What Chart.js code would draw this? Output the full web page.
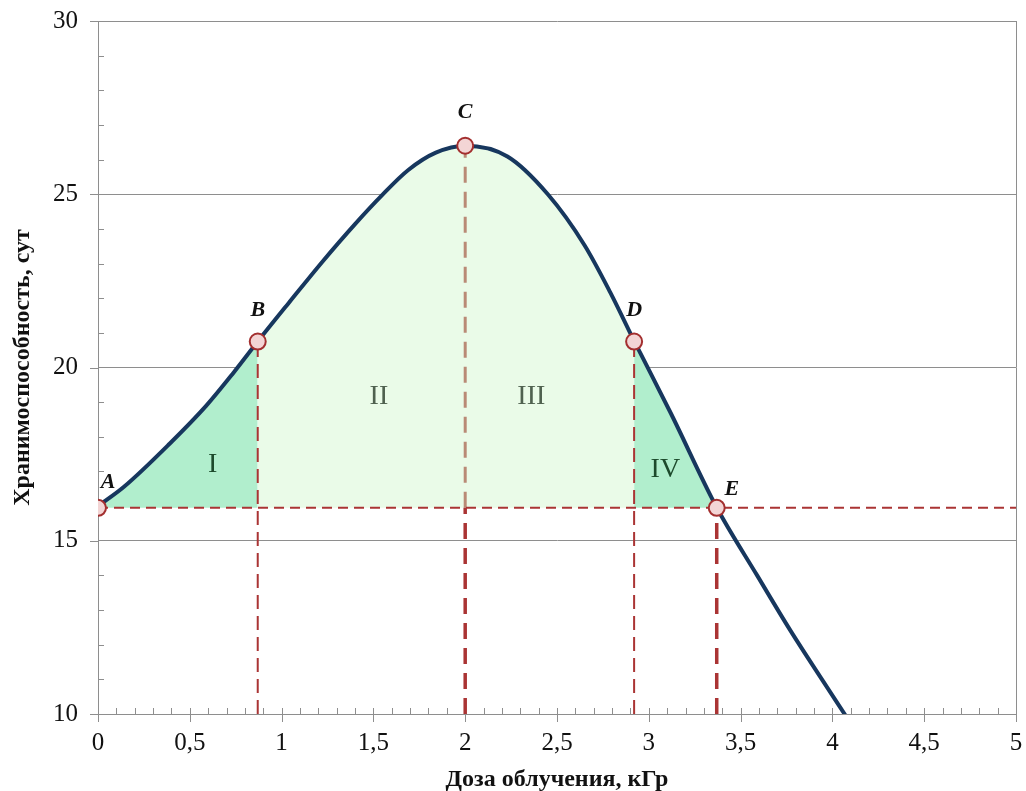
<!DOCTYPE html>
<html>
<head>
<meta charset="utf-8">
<script src="https://cdn.jsdelivr.net/npm/chart.js@4.4.1/dist/chart.umd.min.js"></script>
<style>
  html, body { margin: 0; padding: 0; background: #fff; }
  #wrap { width: 1026px; height: 791px; }
</style>
</head>
<body>
<div id="wrap"><canvas id="chart" width="1026" height="791"></canvas></div>
<script>
// curve
const doseX = [0, 0.14, 0.39, 0.59, 0.735, 0.87, 1.04, 1.22, 1.40, 1.55, 1.69, 1.84, 2.0, 2.23, 2.45, 2.65, 2.79, 2.92, 3.12, 3.37, 3.59, 3.77, 3.95, 4.07]
const storageDays = [16.0, 16.55, 17.8, 18.9, 19.83, 20.75, 21.87, 23.04, 24.14, 24.99, 25.7, 26.2, 26.4, 26.09, 25.0, 23.53, 22.17, 20.77, 18.68, 15.96, 14.0, 12.42, 10.94, 9.97]

// marked points A..E
const pointNames = ['A', 'B', 'C', 'D', 'E']
const pointX = [0, 0.87, 2.0, 2.92, 3.37]
const pointY = [15.95, 20.75, 26.4, 20.75, 15.95]

// zone captions
const zoneNames = ['I', 'II', 'III', 'IV']
const zoneX = [0.625, 1.53, 2.36, 3.09]
const zoneY = [17.2, 19.17, 19.17, 17.06]

const xTicks = [0, 0.5, 1, 1.5, 2, 2.5, 3, 3.5, 4, 4.5, 5]
const yTicks = [10, 15, 20, 25, 30]

const base = pointY[0]
const yMin = yTicks[0]
const red = '#aa3434'
const gridGray = '#8e8e8e'
const greenDark = '#b1eecd'
const greenLight = '#eafbe8'

Chart.defaults.font.family = '"Liberation Serif", "Times New Roman", serif'
Chart.defaults.color = '#111'

function zoneColor(c) {
  const x1 = c.p1.parsed.x
  if (x1 <= pointX[1] + 1e-6) return greenDark
  if (x1 <= pointX[3] + 1e-6) return greenLight
  if (x1 <= pointX[4] + 1e-6) return greenDark
  return 'rgba(0,0,0,0)'
}

function dashed(points, color, width, dash) {
  return {
    data: points, borderColor: color, borderWidth: width, borderDash: dash,
    pointRadius: 0, fill: false, order: 2, tension: 0
  }
}

const axisTicks = {
  id: 'axisTicks',
  beforeDatasetsDraw(chart) {
    const { ctx, scales: { x, y } } = chart
    ctx.save()
    ctx.strokeStyle = gridGray
    ctx.lineWidth = 1
    ctx.beginPath()
    for (let i = 0; i <= 50; i++) {
      const px = Math.round(x.getPixelForValue(i / 10)) + 0.5
      if (i % 5 === 0) {
        ctx.moveTo(px, y.bottom - (i === 0 ? 0 : 6))
        ctx.lineTo(px, y.bottom + 8)
      } else {
        ctx.moveTo(px, y.bottom - 6)
        ctx.lineTo(px, y.bottom)
      }
    }
    for (let v = yTicks[0]; v <= yTicks[yTicks.length - 1]; v++) {
      const py = Math.round(y.getPixelForValue(v)) + 0.5
      if (v % 5 === 0) {
        ctx.moveTo(x.left - 8, py)
        ctx.lineTo(x.left, py)
      } else {
        ctx.moveTo(x.left, py)
        ctx.lineTo(x.left + 6, py)
      }
    }
    ctx.stroke()
    ctx.restore()
  }
}

const captions = {
  id: 'captions',
  afterDatasetsDraw(chart) {
    const { ctx, scales: { x, y } } = chart
    ctx.save()
    ctx.textAlign = 'center'
    ctx.textBaseline = 'middle'
    ctx.font = '28px "Liberation Serif"'
    zoneNames.forEach((t, i) => {
      ctx.fillStyle = (i === 1 || i === 2) ? '#4f614f' : '#1d4a2c'
      ctx.fillText(t, x.getPixelForValue(zoneX[i]), y.getPixelForValue(zoneY[i]))
    })
    ctx.font = 'italic bold 22px "Liberation Serif"'
    ctx.fillStyle = '#111'
    const dx = [10, 0, 0, 0, 15]
    const dy = [-26, -31, -33, -31, -19]
    pointNames.forEach((t, i) => {
      ctx.fillText(t, x.getPixelForValue(pointX[i]) + dx[i], y.getPixelForValue(pointY[i]) + dy[i])
    })
    ctx.restore()
  }
}

new Chart(document.getElementById('chart'), {
  type: 'line',
  data: {
    datasets: [
      {
        data: pointX.map((x, i) => ({ x, y: pointY[i] })),
        showLine: false,
        pointRadius: 8,
        pointBackgroundColor: '#f3d5d5',
        pointBorderColor: '#a32f2f',
        pointBorderWidth: 2,
        order: 0
      },
      {
        data: doseX.map((x, i) => ({ x, y: storageDays[i] })),
        borderColor: '#17375e',
        borderWidth: 4,
        pointRadius: 0,
        cubicInterpolationMode: 'monotone',
        fill: { value: base },
        backgroundColor: greenLight,
        segment: { backgroundColor: zoneColor },
        order: 1
      },
      dashed([{ x: xTicks[0], y: base }, { x: xTicks[xTicks.length - 1], y: base }], red, 2, [10, 6]),
      dashed([{ x: pointX[1], y: yMin }, { x: pointX[1], y: pointY[1] }], red, 2, [14, 7]),
      dashed([{ x: pointX[3], y: yMin }, { x: pointX[3], y: pointY[3] }], red, 2, [14, 7]),
      dashed([{ x: pointX[2], y: yMin }, { x: pointX[2], y: base }], red, 3.5, [16, 9]),
      dashed([{ x: pointX[2], y: base }, { x: pointX[2], y: pointY[2] }], '#b98a76', 3, [16, 9]),
      dashed([{ x: pointX[4], y: yMin }, { x: pointX[4], y: base }], red, 3.5, [16, 9])
    ]
  },
  options: {
    responsive: false,
    animation: false,
    layout: { padding: { left: 0, right: 5, top: 21, bottom: 0 } },
    plugins: {
      legend: { display: false },
      tooltip: { enabled: false },
      filler: { drawTime: 'beforeDatasetsDraw' }
    },
    scales: {
      x: {
        type: 'linear',
        min: 0,
        max: 5,
        afterBuildTicks: s => { s.ticks = xTicks.map(v => ({ value: v })) },
        afterFit: s => { s.height = 77; s.paddingLeft = 0; s.paddingRight = 0 },
        grid: {
          drawTicks: false,
          color: c => c.tick && c.tick.value === 5 ? gridGray : 'rgba(0,0,0,0)'
        },
        border: { color: gridGray },
        ticks: {
          padding: 14,
          autoSkip: false,
          maxRotation: 0,
          font: { size: 25 },
          color: '#111',
          callback: v => String(v).replace('.', ',')
        },
        title: {
          display: true,
          text: 'Доза облучения, кГр',
          font: { size: 24, weight: 'bold', lineHeight: 1 },
          color: '#111',
          padding: { top: 0, bottom: -1 }
        }
      },
      y: {
        min: yTicks[0],
        max: yTicks[yTicks.length - 1],
        afterBuildTicks: s => { s.ticks = yTicks.map(v => ({ value: v })) },
        afterFit: s => { s.width = 98; s.paddingTop = 0; s.paddingBottom = 0 },
        grid: {
          drawTicks: false,
          color: c => c.tick && c.tick.value === yTicks[0] ? 'rgba(0,0,0,0)' : gridGray
        },
        border: { color: gridGray },
        ticks: { padding: 20, autoSkip: false, font: { size: 25 }, color: '#111' },
        title: {
          display: true,
          text: 'Хранимоспособность, сут',
          font: { size: 24, weight: 'bold', lineHeight: 1.2 },
          color: '#111',
          padding: { top: 8, bottom: 0 }
        }
      }
    }
  },
  plugins: [axisTicks, captions]
})
</script>
</body>
</html>
